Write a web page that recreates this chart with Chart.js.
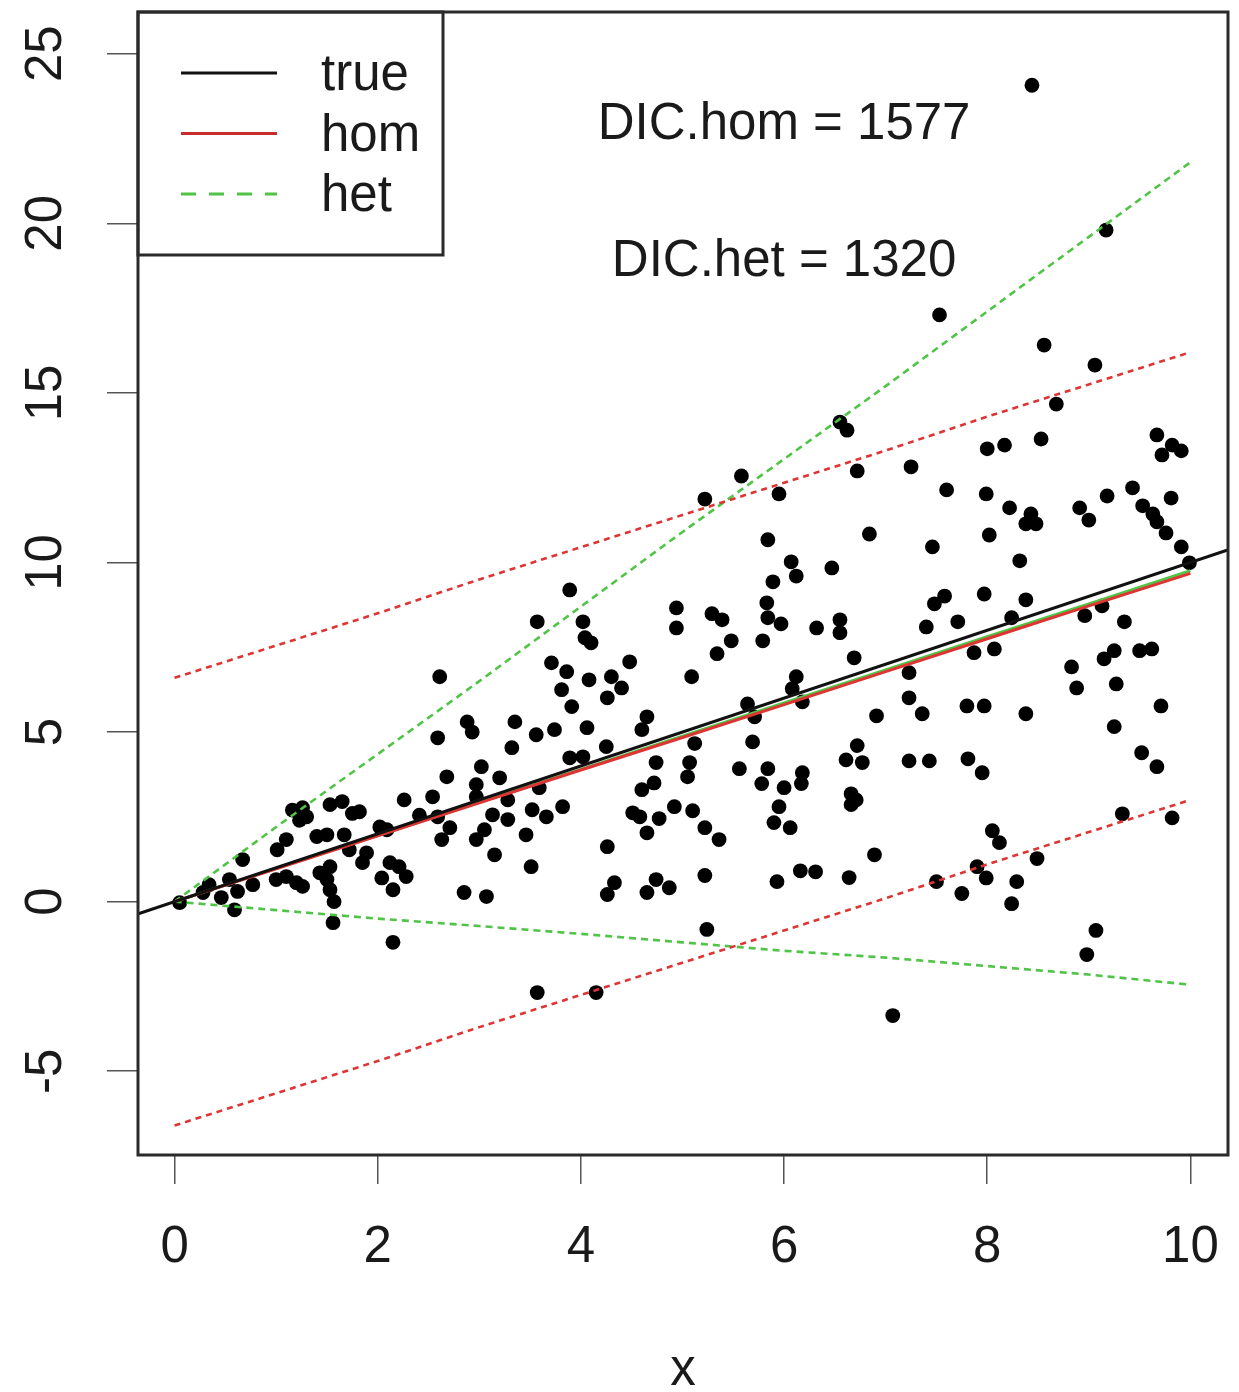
<!DOCTYPE html>
<html>
<head>
<meta charset="utf-8">
<title>DIC hom vs het</title>
<script src="https://cdn.jsdelivr.net/npm/chart.js@4.4.1/dist/chart.umd.min.js"></script>
<style>
    html, body { margin: 0; padding: 0; background: #fff; }
    #plot { display: block; }
</style>
</head>
<body>
<canvas id="plot" width="1239" height="1392"></canvas>
<script>
const obsX = [
    0.05, 0.28, 0.34, 0.46, 0.54, 0.62, 0.59, 0.67, 0.77, 1.01, 1.10, 1.16, 1.26, 1.30, 1.23, 1.00, 1.10, 1.20, 1.26, 1.40,
    1.50, 1.43, 1.50, 1.53, 1.53, 1.57, 1.56, 1.53, 1.65, 1.67, 1.75, 1.82, 1.72, 1.89, 1.85, 2.02, 2.09, 2.04, 2.12, 2.15,
    2.21, 2.28, 2.26, 2.15, 2.41,
    3.89, 3.57, 4.02, 4.04, 4.10, 4.48, 3.71, 3.86, 4.08, 4.30, 4.40, 3.81, 4.26, 3.91, 2.61, 3.35, 2.88, 2.93, 3.74, 3.56,
    4.06, 4.65, 4.60, 2.59, 3.32, 4.25, 3.89, 4.02, 3.02, 2.68, 3.20, 2.97, 3.59, 2.54, 2.97, 3.28, 2.59, 3.13, 3.52, 3.66,
    3.82, 3.28, 2.71, 2.63, 2.97, 3.05, 3.46, 3.15, 3.51, 2.85, 3.07, 4.26, 4.33, 4.26, 4.65, 4.74, 3.57, 4.15, 4.51, 4.58,
    4.65, 4.60, 4.72, 4.74,
    5.58, 5.22, 5.95, 6.72, 6.84, 5.84, 6.07, 6.12, 6.47, 5.89, 5.83, 5.84, 5.97, 4.94, 4.94, 5.29, 5.39, 5.48, 5.34, 5.79,
    6.32, 6.55, 6.55, 6.69, 5.09, 6.12, 6.08, 6.18, 5.64, 5.71, 6.91, 5.12, 5.69, 5.07, 5.05, 5.56, 5.84, 5.78, 6.00, 6.18,
    6.17, 6.72, 6.61, 6.77, 6.66, 6.71, 6.66, 4.92, 5.10, 4.77, 5.22, 5.36, 5.95, 5.90, 6.06, 4.87, 5.22, 5.93, 6.16, 6.31,
    6.64, 6.89, 5.24, 7.07,
    8.68, 8.53, 8.00, 8.17, 7.25, 9.67, 9.82, 9.91, 9.72, 7.60, 7.99, 9.18, 9.43, 9.81, 8.22, 8.43, 8.38, 8.48, 8.91, 9.00,
    9.53, 9.63, 9.67, 9.76, 9.91, 9.99, 7.46, 8.02, 8.32, 7.48, 7.58, 7.97, 8.38, 7.40, 7.71, 8.24, 7.87, 8.07, 8.96, 9.13,
    9.35, 7.23, 9.15, 9.25, 9.50, 9.62, 8.83, 8.88, 9.27, 7.23, 7.36, 7.80, 7.97, 8.38, 9.71, 9.25, 7.23, 7.43, 7.81, 7.95,
    9.52, 9.67, 9.33, 9.82, 8.05, 8.12, 8.49, 7.90, 7.99, 7.50, 7.75, 8.29, 8.24, 9.07, 8.98,
    8.44, 9.17, 7.53, 8.56, 9.06, 6.55, 6.62
];
const obsY = [
    -0.03, 0.27, 0.50, 0.12, 0.65, 0.30, -0.24, 1.24, 0.50, 1.53, 1.83, 2.70, 2.77, 2.50, 2.40, 0.65, 0.74, 0.56, 0.45, 1.92,
    1.97, 0.85, 0.65, 1.03, 0.35, 0.00, -0.62, 2.86, 2.95, 1.97, 2.60, 2.65, 1.53, 1.44, 1.15, 2.20, 2.12, 0.70, 1.15, 0.35,
    1.03, 0.74, 3.00, -1.20, 2.55,
    9.19, 8.25, 8.25, 7.78, 7.63, 7.07, 7.04, 6.78, 6.54, 6.63, 6.30, 6.25, 6.01, 5.75, 6.63, 5.30, 5.30, 5.00, 5.07, 4.92,
    5.13, 5.45, 5.07, 4.83, 4.54, 4.57, 4.24, 4.27, 3.98, 3.68, 3.65, 3.45, 3.36, 3.09, 3.09, 3.00, 2.50, 2.56, 2.71, 2.50,
    2.80, 2.42, 2.18, 1.83, 1.83, 2.12, 1.97, 1.38, 1.03, 0.27, 0.15, 1.62, 0.56, 0.21, 0.27, 0.65, -2.68, -2.68, 2.62, 2.50,
    2.03, 3.30, 3.50, 4.10,
    12.55, 11.87, 12.02, 12.70, 10.84, 10.67, 10.02, 9.60, 9.84, 9.43, 8.81, 8.37, 8.19, 8.66, 8.07, 8.49, 8.31, 7.69, 7.31, 7.69,
    8.07, 8.31, 7.93, 7.19, 6.63, 6.63, 6.28, 5.89, 5.83, 5.45, 5.48, 4.66, 4.71, 4.10, 3.68, 3.92, 3.92, 3.48, 3.36, 3.80,
    3.48, 4.60, 4.18, 4.10, 3.18, 3.00, 2.86, 2.80, 2.68, 2.45, 2.18, 1.83, 2.80, 2.33, 2.18, 0.41, 0.77, 0.59, 0.91, 0.88,
    0.71, 1.38, -0.82, -3.36,
    14.67, 13.64, 13.35, 13.46, 12.82, 13.76, 13.46, 13.29, 13.17, 12.14, 12.02, 11.96, 12.20, 11.90, 11.61, 11.43, 11.14, 11.14, 11.61, 11.25,
    11.67, 11.43, 11.20, 10.87, 10.46, 9.99, 10.46, 10.81, 10.05, 8.78, 9.01, 9.07, 8.90, 8.10, 8.25, 8.37, 7.34, 7.45, 8.43, 8.72,
    8.25, 6.75, 7.16, 7.40, 7.40, 7.45, 6.92, 6.30, 6.42, 6.01, 5.54, 5.77, 5.77, 5.54, 5.77, 5.16, 4.15, 4.15, 4.21, 3.80,
    4.39, 3.98, 2.59, 2.47, 2.09, 1.74, 1.27, 1.03, 0.70, 0.59, 0.24, 0.59, -0.06, -0.85, -1.56,
    24.07, 19.80, 17.30, 16.41, 15.82, 14.14, 13.90
];

// fitted curves, evaluated at x = 0..10
const fitX      = [0, 1, 2, 3, 4, 5, 6, 7, 8, 9, 10];
const homMedian = [0, 0.97, 1.94, 2.91, 3.88, 4.84, 5.81, 6.78, 7.75, 8.72, 9.68];
const homUpper  = [6.60, 7.55, 8.50, 9.50, 10.45, 11.40, 12.35, 13.30, 14.30, 15.25, 16.20];
const homLower  = [-6.60, -5.65, -4.70, -3.70, -2.75, -1.80, -0.85, 0.10, 1.10, 2.05, 3.00];
const hetMedian = [0, 0.98, 1.95, 2.93, 3.90, 4.88, 5.86, 6.83, 7.81, 8.78, 9.76];
const hetUpper  = [0, 2.20, 4.35, 6.50, 8.70, 10.90, 13.05, 15.20, 17.40, 19.60, 21.80];
const hetLower  = [0, -0.25, -0.50, -0.72, -0.95, -1.20, -1.45, -1.65, -1.90, -2.15, -2.45];

// true line y = x, across the whole plot
const trueX = [-0.5, 10.5];
const trueY = [-0.5, 10.5];

const xTicks = [0, 2, 4, 6, 8, 10];
const yTicks = [-5, 0, 5, 10, 15, 20, 25];

const dicHom = 1577;
const dicHet = 1320;

const FONT = "'Liberation Sans', Arial, Helvetica, sans-serif";
const RED = 'rgb(222, 52, 52)';
const GREEN = 'rgb(80, 196, 70)';

const toPoints = (xs, ys) => xs.map((x, i) => ({ x: x, y: ys[i] }));

function lineSet(label, xs, ys, color, dash, order) {
    return {
        type: 'line',
        label: label,
        data: toPoints(xs, ys),
        borderColor: color,
        borderWidth: dash ? 2.6 : 3,
        borderDash: dash || [],
        pointRadius: 0,
        fill: false,
        tension: 0,
        order: order
    };
}

const legendItems = [
    { label: 'true', color: '#111', dash: [] },
    { label: 'hom', color: 'rgb(200, 45, 45)', dash: [] },
    { label: 'het', color: GREEN, dash: [15, 13] }
];

const rExtras = {
    id: 'rExtras',
    afterDatasetsDraw(chart) {
        const { ctx, chartArea: a, scales } = chart;
        const xs = scales.x, ys = scales.y;
        ctx.save();

        ctx.fillStyle = '#1a1a1a';
        ctx.font = `51px ${FONT}`;
        ctx.textAlign = 'center';
        ctx.textBaseline = 'middle';

        // x tick labels
        xTicks.forEach(v => {
            ctx.fillText(String(v), xs.getPixelForValue(v), 1248);
        });

        // y tick labels, rotated like R
        yTicks.forEach(v => {
            ctx.save();
            ctx.translate(47, ys.getPixelForValue(v));
            ctx.rotate(-Math.PI / 2);
            ctx.fillText(String(v), 0, 0);
            ctx.restore();
        });

        // DIC annotations
        ctx.fillText(`DIC.hom = ${dicHom}`, xs.getPixelForValue(6), ys.getPixelForValue(22.9));
        ctx.fillText(`DIC.het = ${dicHet}`, xs.getPixelForValue(6), ys.getPixelForValue(18.85));

        // legend box (topleft)
        const bx = a.left, by = a.top, bw = 305, bh = 243;
        ctx.fillStyle = '#fff';
        ctx.fillRect(bx, by, bw, bh);
        ctx.strokeStyle = '#2a2a2a';
        ctx.lineWidth = 3;
        ctx.strokeRect(bx, by, bw, bh);
        legendItems.forEach((it, i) => {
            const ly = by + 61 + i * 60.5;
            ctx.beginPath();
            ctx.setLineDash(it.dash);
            ctx.strokeStyle = it.color;
            ctx.lineWidth = 3;
            ctx.moveTo(bx + 43, ly);
            ctx.lineTo(bx + 139, ly);
            ctx.stroke();
            ctx.setLineDash([]);
            ctx.fillStyle = '#1a1a1a';
            ctx.textAlign = 'left';
            ctx.fillText(it.label, bx + 183, ly + 3);
        });

        // plot box
        ctx.strokeStyle = '#2a2a2a';
        ctx.lineWidth = 3;
        ctx.strokeRect(a.left, a.top, a.right - a.left, a.bottom - a.top);
        ctx.restore();
    }
};

const ctx = document.getElementById('plot').getContext('2d');
new Chart(ctx, {
    type: 'scatter',
    data: {
        datasets: [
            lineSet('true', trueX, trueY, '#111', null, 1),
            lineSet('hom', fitX, homMedian, RED, null, 2),
            lineSet('het', fitX, hetMedian, GREEN, null, 3),
            lineSet('hom upper', fitX, homUpper, RED, [6, 5], 4),
            lineSet('hom lower', fitX, homLower, RED, [6, 5], 4),
            lineSet('het upper', fitX, hetUpper, GREEN, [7, 5], 4),
            lineSet('het lower', fitX, hetLower, GREEN, [7, 5], 4),
            {
                label: 'y',
                data: toPoints(obsX, obsY),
                backgroundColor: '#000',
                borderColor: '#000',
                borderWidth: 0,
                pointRadius: 7.4,
                order: 10
            }
        ]
    },
    options: {
        responsive: false,
        animation: false,
        layout: { padding: { left: 0, right: 11, top: 12, bottom: 0 } },
        plugins: {
            legend: { display: false },
            tooltip: { enabled: false }
        },
        scales: {
            x: {
                type: 'linear',
                min: -0.36,
                max: 10.37,
                afterBuildTicks: s => { s.ticks = xTicks.map(v => ({ value: v })); },
                afterFit: s => { s.height = 237; },
                border: { display: false },
                grid: { drawOnChartArea: false, tickLength: 29, color: '#555', lineWidth: 1.5 },
                ticks: { display: false },
                title: {
                    display: true,
                    text: 'x',
                    color: '#1a1a1a',
                    font: { size: 51, family: FONT, lineHeight: 1 },
                    padding: { top: 0, bottom: -4 }
                }
            },
            y: {
                type: 'linear',
                min: -7.47,
                max: 26.23,
                afterBuildTicks: s => { s.ticks = yTicks.map(v => ({ value: v })); },
                afterFit: s => { s.width = 138; },
                border: { display: false },
                grid: { drawOnChartArea: false, tickLength: 31, color: '#555', lineWidth: 1.5 },
                ticks: { display: false }
            }
        }
    },
    plugins: [rExtras]
});
</script>
</body>
</html>
